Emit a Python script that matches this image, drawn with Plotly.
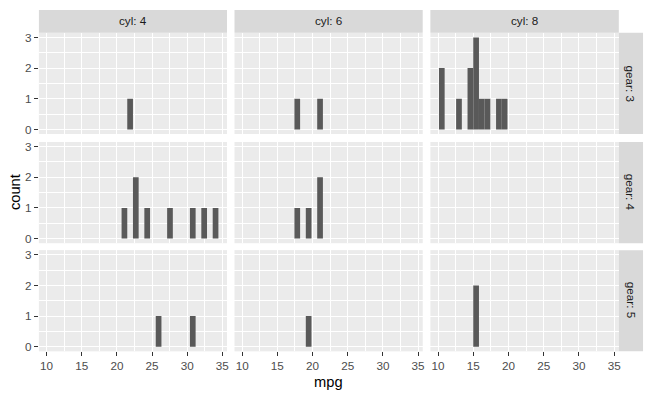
import plotly.graph_objects as go

# ---- data (histogram bins: bin centre mpg and count) ----
cyl_levels = ["4", "6", "8"]
gear_levels = ["3", "4", "5"]
bin_width = 0.81

g3_c4_mpg = [21.88]
g3_c4_count = [1]
g3_c6_mpg = [17.83, 21.07]
g3_c6_count = [1, 1]
g3_c8_mpg = [10.53, 12.97, 14.59, 15.40, 16.21, 17.02, 18.64, 19.45]
g3_c8_count = [2, 1, 2, 3, 1, 1, 1, 1]

g4_c4_mpg = [21.07, 22.69, 24.31, 27.55, 30.79, 32.41, 34.03]
g4_c4_count = [1, 2, 1, 1, 1, 1, 1]
g4_c6_mpg = [17.83, 19.45, 21.07]
g4_c6_count = [1, 1, 2]
g4_c8_mpg = []
g4_c8_count = []

g5_c4_mpg = [25.93, 30.79]
g5_c4_count = [1, 1]
g5_c6_mpg = [19.45]
g5_c6_count = [1]
g5_c8_mpg = [15.40]
g5_c8_count = [2]

x_ticks = [10, 15, 20, 25, 30, 35]
y_ticks = [0, 1, 2, 3]

panels = [
    [(g3_c4_mpg, g3_c4_count), (g3_c6_mpg, g3_c6_count), (g3_c8_mpg, g3_c8_count)],
    [(g4_c4_mpg, g4_c4_count), (g4_c6_mpg, g4_c6_count), (g4_c8_mpg, g4_c8_count)],
    [(g5_c4_mpg, g5_c4_count), (g5_c6_mpg, g5_c6_count), (g5_c8_mpg, g5_c8_count)],
]

# ---- layout geometry (pixels in the 653x398 window; page body has an 8px margin) ----
OFF = 8
W, H = 653 - OFF, 398 - OFF
col_px = [(39, 227.7), (235.2, 424), (431.7, 620.7)]
row_px = [(31, 133), (141, 243), (250, 352)]
strip_top = (7, 31)
strip_right = (620.7, 645)

def px_x(p):
    return (p - OFF) / W

def px_y(p):
    return min(1.0, 1 - (p - OFF) / H)

FONT = "Liberation Sans, Arial, sans-serif"
fig = go.Figure()
layout = dict(
    width=W, height=H, autosize=False,
    margin=dict(l=0, r=0, t=0, b=0),
    paper_bgcolor="white", plot_bgcolor="#EBEBEB",
    showlegend=False, font=dict(family=FONT),
    shapes=[], annotations=[],
)

x_minor = [12.5, 17.5, 22.5, 27.5, 32.5]
y_minor = [0.5, 1.5, 2.5]

for r in range(3):
    for c in range(3):
        idx = r * 3 + c + 1
        xs, ys = panels[r][c]
        xa = "x" if idx == 1 else f"x{idx}"
        ya = "y" if idx == 1 else f"y{idx}"
        fig.add_trace(go.Bar(
            x=xs, y=ys, width=bin_width,
            marker=dict(color="#595959", line=dict(width=0)),
            xaxis=xa, yaxis=ya, hoverinfo="x+y",
        ))
        bottom = r == 2
        left = c == 0
        xkey = "xaxis" if idx == 1 else f"xaxis{idx}"
        ykey = "yaxis" if idx == 1 else f"yaxis{idx}"
        layout[xkey] = dict(
            domain=[px_x(col_px[c][0]), px_x(col_px[c][1])],
            anchor=ya, range=[8.91, 35.66],
            tickmode="array", tickvals=x_ticks,
            showticklabels=bottom,
            ticks="outside" if bottom else "", ticklen=4, tickwidth=1.07,
            tickcolor="#333333",
            tickfont=dict(size=11.7, color="#4D4D4D", family=FONT),
            showgrid=True, gridcolor="white", gridwidth=1.07,
            minor=dict(tickvals=x_minor, showgrid=True, gridcolor="white",
                       gridwidth=0.53, ticks=""),
            zeroline=False, showline=False, fixedrange=True,
        )
        layout[ykey] = dict(
            domain=[px_y(row_px[r][1]), px_y(row_px[r][0])],
            anchor=xa, range=[-0.15, 3.15],
            tickmode="array", tickvals=y_ticks,
            showticklabels=left,
            ticks="outside" if left else "", ticklen=4, tickwidth=1.07,
            tickcolor="#333333",
            tickfont=dict(size=11.7, color="#4D4D4D", family=FONT),
            showgrid=True, gridcolor="white", gridwidth=1.07,
            minor=dict(tickvals=y_minor, showgrid=True, gridcolor="white",
                       gridwidth=0.53, ticks=""),
            zeroline=False, showline=False, fixedrange=True,
        )

# top strips
for c, lev in enumerate(cyl_levels):
    x0, x1 = px_x(col_px[c][0]), px_x(col_px[c][1])
    y0, y1 = px_y(strip_top[1]), px_y(strip_top[0])
    layout["shapes"].append(dict(type="rect", xref="paper", yref="paper",
                                 x0=x0, x1=x1, y0=y0, y1=y1,
                                 fillcolor="#D9D9D9", line=dict(width=0), layer="below"))
    layout["annotations"].append(dict(xref="paper", yref="paper",
                                      x=(x0 + x1) / 2, y=px_y(19),
                                      text=f"cyl: {lev}", showarrow=False,
                                      xanchor="center", yanchor="middle",
                                      font=dict(size=11.7, color="#1A1A1A", family=FONT)))
# right strips
for r, lev in enumerate(gear_levels):
    x0, x1 = px_x(strip_right[0]), px_x(strip_right[1])
    y0, y1 = px_y(row_px[r][1]), px_y(row_px[r][0])
    layout["shapes"].append(dict(type="rect", xref="paper", yref="paper",
                                 x0=x0, x1=x1, y0=y0, y1=y1,
                                 fillcolor="#D9D9D9", line=dict(width=0), layer="below"))
    layout["annotations"].append(dict(xref="paper", yref="paper",
                                      x=(x0 + x1) / 2, y=(y0 + y1) / 2,
                                      text=f"gear: {lev}", showarrow=False, textangle=90,
                                      xanchor="center", yanchor="middle",
                                      font=dict(size=11.7, color="#1A1A1A", family=FONT)))

# axis titles
layout["annotations"].append(dict(xref="paper", yref="paper",
                                  x=px_x((col_px[0][0] + col_px[2][1]) / 2), y=px_y(383),
                                  text="mpg", showarrow=False,
                                  xanchor="center", yanchor="middle",
                                  font=dict(size=14.7, color="black", family=FONT)))
layout["annotations"].append(dict(xref="paper", yref="paper",
                                  x=px_x(15), y=px_y((row_px[0][0] + row_px[2][1]) / 2),
                                  text="count", showarrow=False, textangle=-90,
                                  xanchor="center", yanchor="middle",
                                  font=dict(size=14.7, color="black", family=FONT)))

fig.update_layout(**layout)
fig.write_html("out.html")
